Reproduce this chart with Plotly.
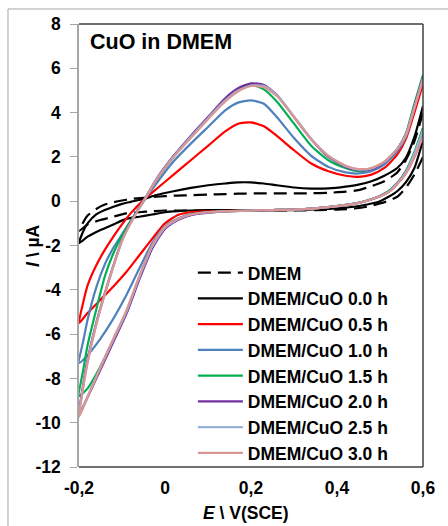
import plotly.graph_objects as go

# ---- data ----
E_up = [-0.2, -0.19, -0.18, -0.16, -0.14, -0.12, -0.1, -0.08, -0.05, -0.02, 0.02, 0.06, 0.1, 0.14,
        0.17, 0.2, 0.23, 0.26, 0.3, 0.34, 0.38, 0.42, 0.45, 0.48, 0.51, 0.54, 0.56, 0.58, 0.6]
E_down = [0.6, 0.58, 0.56, 0.54, 0.52, 0.5, 0.47, 0.44, 0.4, 0.35, 0.3, 0.25, 0.2, 0.15, 0.1,
          0.06, 0.03, 0.0, -0.03, -0.06, -0.09, -0.12, -0.15, -0.18, -0.2]

dmem_up = [-1.35, -0.95, -0.65, -0.35, -0.15, -0.05, 0.03, 0.1, 0.15, 0.2, 0.25, 0.27, 0.3, 0.32,
           0.34, 0.35, 0.35, 0.35, 0.35, 0.36, 0.38, 0.43, 0.5, 0.68, 0.9, 1.3, 1.85, 2.7, 4.0]
dmem_down = [2.0, 1.2, 0.6, 0.2, 0.02, -0.1, -0.25, -0.33, -0.38, -0.4, -0.42, -0.42, -0.42, -0.42,
             -0.42, -0.42, -0.42, -0.42, -0.45, -0.5, -0.55, -0.7, -0.85, -1.05, -1.35]

cuo00_up = [-1.9, -1.35, -1.0, -0.6, -0.4, -0.25, -0.12, -0.03, 0.1, 0.28, 0.45, 0.6, 0.72, 0.8,
            0.85, 0.85, 0.8, 0.72, 0.62, 0.57, 0.58, 0.66, 0.75, 0.9, 1.15, 1.5, 1.95, 2.9, 4.3]
cuo00_down = [2.75, 1.5, 0.85, 0.45, 0.2, 0.0, -0.15, -0.25, -0.32, -0.37, -0.4, -0.4, -0.4, -0.4,
              -0.4, -0.42, -0.45, -0.5, -0.6, -0.7, -0.8, -1.05, -1.3, -1.6, -1.9]

cuo05_up = [-5.5, -4.55, -3.8, -2.9, -2.2, -1.6, -1.05, -0.55, 0.05, 0.55, 1.2, 1.85, 2.5, 3.15,
            3.5, 3.56, 3.38, 2.95, 2.3, 1.7, 1.35, 1.15, 1.1, 1.2, 1.5, 2.1, 2.8, 4.0, 5.3]
cuo05_down = [3.0, 2.0, 1.25, 0.78, 0.42, 0.22, 0.02, -0.12, -0.22, -0.32, -0.38, -0.4, -0.42, -0.44,
              -0.46, -0.5, -0.62, -1.0, -1.7, -2.45, -3.2, -3.85, -4.45, -5.05, -5.5]

cuo10_up = [-7.3, -6.3, -5.35, -3.9, -2.85, -2.1, -1.5, -0.9, 0.0, 0.8, 1.8, 2.6, 3.35, 4.1,
            4.45, 4.55, 4.4, 3.8, 2.85, 2.05, 1.55, 1.3, 1.25, 1.35, 1.65, 2.25, 2.9, 4.2, 5.5]
cuo10_down = [3.3, 2.2, 1.35, 0.82, 0.45, 0.24, 0.03, -0.11, -0.22, -0.32, -0.38, -0.4, -0.42, -0.45,
              -0.5, -0.58, -0.78, -1.12, -1.9, -3.05, -4.25, -5.3, -6.2, -6.95, -7.3]

cuo15_up = [-8.8, -7.6, -6.5, -4.9, -3.4, -2.35, -1.55, -0.9, 0.0, 0.95, 2.0, 2.9, 3.75, 4.6,
            5.05, 5.25, 5.05, 4.5, 3.5, 2.5, 1.85, 1.5, 1.35, 1.45, 1.75, 2.35, 3.05, 4.4, 5.7]
cuo15_down = [3.3, 2.2, 1.35, 0.82, 0.45, 0.24, 0.03, -0.11, -0.22, -0.32, -0.38, -0.4, -0.42, -0.45,
              -0.5, -0.6, -0.82, -1.2, -2.05, -3.45, -5.0, -6.25, -7.45, -8.45, -8.8]

cuo20_up = [-9.6, -8.25, -7.15, -5.5, -4.15, -2.9, -1.75, -0.95, 0.0, 1.0, 2.05, 2.95, 3.8, 4.65,
            5.1, 5.32, 5.25, 4.8, 3.8, 2.8, 2.0, 1.55, 1.4, 1.45, 1.75, 2.35, 3.0, 4.3, 5.6]
cuo20_down = [3.1, 2.1, 1.3, 0.8, 0.42, 0.22, 0.02, -0.12, -0.22, -0.32, -0.38, -0.4, -0.42, -0.45,
              -0.52, -0.63, -0.85, -1.25, -2.15, -3.55, -5.1, -6.35, -7.6, -8.85, -9.6]

cuo25_up = [-9.7, -8.35, -7.25, -5.55, -4.2, -2.95, -1.78, -0.98, 0.0, 0.98, 2.02, 2.9, 3.75, 4.55,
            5.0, 5.22, 5.2, 4.8, 3.82, 2.82, 2.05, 1.58, 1.43, 1.48, 1.77, 2.35, 3.0, 4.25, 5.55]
cuo25_down = [3.2, 2.15, 1.3, 0.8, 0.42, 0.22, 0.02, -0.12, -0.22, -0.32, -0.38, -0.4, -0.42, -0.45,
              -0.5, -0.6, -0.82, -1.2, -2.05, -3.45, -5.0, -6.25, -7.5, -8.8, -9.7]

cuo30_up = [-9.75, -8.4, -7.3, -5.6, -4.2, -2.95, -1.8, -1.0, 0.0, 0.95, 2.0, 2.85, 3.7, 4.5,
            4.95, 5.2, 5.15, 4.75, 3.8, 2.8, 2.05, 1.6, 1.45, 1.5, 1.78, 2.35, 2.95, 4.2, 5.5]
cuo30_down = [2.9, 2.0, 1.25, 0.78, 0.42, 0.22, 0.02, -0.12, -0.22, -0.32, -0.38, -0.4, -0.42, -0.45,
              -0.5, -0.6, -0.8, -1.15, -2.0, -3.4, -4.95, -6.2, -7.5, -8.85, -9.75]

names = ["DMEM", "DMEM/CuO 0.0 h", "DMEM/CuO 0.5 h", "DMEM/CuO 1.0 h",
         "DMEM/CuO 1.5 h", "DMEM/CuO 2.0 h", "DMEM/CuO 2.5 h", "DMEM/CuO 3.0 h"]
ups = [dmem_up, cuo00_up, cuo05_up, cuo10_up, cuo15_up, cuo20_up, cuo25_up, cuo30_up]
downs = [dmem_down, cuo00_down, cuo05_down, cuo10_down, cuo15_down, cuo20_down, cuo25_down, cuo30_down]
colors = ["#000000", "#000000", "#FF0000", "#4F81BD", "#00B050", "#7030A0", "#95B3D7", "#D99694"]
dashes = ["13px,7px", "solid", "solid", "solid", "solid", "solid", "solid", "solid"]

x_ticks = [-0.2, 0, 0.2, 0.4, 0.6]
x_ticktext = ["-0,2", "0", "0,2", "0,4", "0,6"]
y_ticks = [-12, -10, -8, -6, -4, -2, 0, 2, 4, 6, 8]
y_ticktext = ["-12", "-10", "-8", "-6", "-4", "-2", "0", "2", "4", "6", "8"]

FONT = "Liberation Sans, Arial, sans-serif"

fig = go.Figure()
for i, (nm, up, dn) in enumerate(zip(names, ups, downs)):
    fig.add_trace(go.Scatter(
        x=E_down + E_up[1:], y=dn + up[1:], mode="lines", name=nm,
        legendgroup=str(i),
        line=dict(color=colors[i], width=2.2, dash=dashes[i], shape="spline", smoothing=0.6),
    ))

fig.update_layout(
    width=448, height=526,
    margin=dict(l=79, r=25, t=24, b=59),
    paper_bgcolor="white", plot_bgcolor="white",
    showlegend=True,
    legend=dict(x=0.331, y=0.479, xanchor="left", yanchor="top",
                bgcolor="rgba(0,0,0,0)", itemwidth=45, tracegroupgap=0,
                font=dict(family=FONT, size=17.5, color="black", weight="bold")),
    xaxis=dict(range=[-0.2, 0.6], tickvals=x_ticks, ticktext=x_ticktext,
               showgrid=False, zeroline=False, showline=False, ticks="",
               ticklabelstandoff=8,
               tickfont=dict(family=FONT, size=17.5, color="black", weight="bold")),
    xaxis2=dict(range=[-0.2, 0.6], overlaying="x", anchor="free", position=0.6,
                tickvals=x_ticks, showticklabels=False, showgrid=False, zeroline=False,
                showline=True, linecolor="#A6A6A6", linewidth=1.5,
                ticks="outside", ticklen=6, tickcolor="#A6A6A6", tickwidth=1.2),
    yaxis=dict(range=[-12, 8], tickvals=y_ticks, ticktext=y_ticktext,
               showgrid=False, zeroline=False, showline=True, linecolor="#A6A6A6", linewidth=1.5,
               ticks="outside", ticklen=7, tickcolor="#A6A6A6", tickwidth=1.2,
               ticklabelstandoff=6,
               tickfont=dict(family=FONT, size=17.5, color="black", weight="bold")),
    shapes=[
        dict(type="rect", xref="paper", yref="paper", x0=-0.2064, x1=1.08, y0=-0.2, y1=1.0339,
             line=dict(color="#A6A6A6", width=1), layer="below"),
        dict(type="line", xref="paper", yref="paper", x0=0, x1=1, y0=1, y1=1,
             line=dict(color="#404040", width=1.5)),
        dict(type="line", xref="paper", yref="paper", x0=1, x1=1, y0=0, y1=1,
             line=dict(color="#404040", width=1.5)),
        dict(type="line", xref="paper", yref="paper", x0=0, x1=1, y0=0, y1=0,
             line=dict(color="#404040", width=1.5)),
    ],
    annotations=[
        dict(text="CuO in DMEM", xref="paper", yref="paper", x=0.026, y=0.99,
             xanchor="left", yanchor="top", showarrow=False,
             font=dict(family=FONT, size=21.5, color="black", weight="bold")),
        dict(text="<i>I</i> \\ µA", xref="paper", yref="paper", x=-0.135, y=0.5,
             xanchor="center", yanchor="middle", textangle=-90, showarrow=False,
             font=dict(family=FONT, size=17.5, color="black", weight="bold")),
        dict(text="<i>E</i> \\ V(SCE)", xref="paper", yref="paper", x=0.485, y=-0.104,
             xanchor="center", yanchor="middle", showarrow=False,
             font=dict(family=FONT, size=17.5, color="black", weight="bold")),
    ],
)

fig.write_html("out.html")
